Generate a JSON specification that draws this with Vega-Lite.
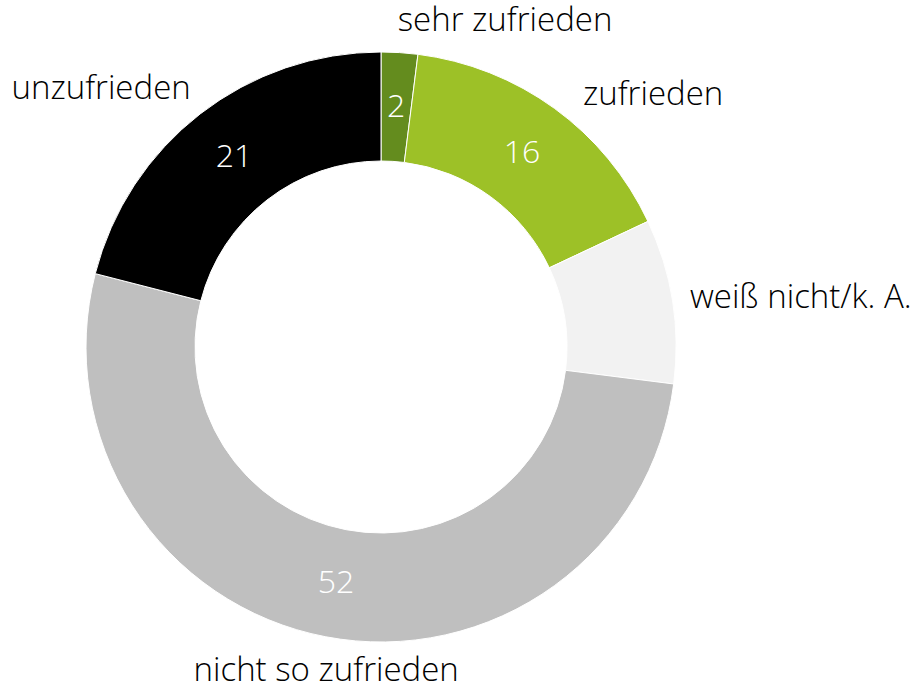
{
  "$schema": "https://vega.github.io/schema/vega-lite/v6.json",
  "width": 762,
  "height": 694,
  "autosize": "none",
  "padding": {"left": 0, "top": 0, "right": 159, "bottom": 0},
  "background": "white",
  "config": {"view": {"stroke": null}},
  "data": {"values": [
    {"category": "sehr zufrieden", "value": 2, "rank": 1},
    {"category": "zufrieden", "value": 16, "rank": 2},
    {"category": "weiß nicht/k. A.", "value": 9, "rank": 3},
    {"category": "nicht so zufrieden", "value": 52, "rank": 4},
    {"category": "unzufrieden", "value": 21, "rank": 5}
  ]},
  "encoding": {
    "theta": {"field": "value", "type": "quantitative", "stack": true},
    "order": {"field": "rank", "type": "quantitative"}
  },
  "layer": [
    {
      "mark": {"type": "arc", "radius": 295, "innerRadius": 186, "stroke": "white", "strokeWidth": 1},
      "encoding": {
        "color": {
          "field": "category", "type": "nominal", "legend": null,
          "scale": {
            "domain": ["sehr zufrieden", "zufrieden", "weiß nicht/k. A.", "nicht so zufrieden", "unzufrieden"],
            "range": ["#648c1e", "#9dc127", "#f2f2f2", "#bfbfbf", "#000000"]
          }
        }
      }
    },
    {
      "mark": {"type": "text", "radius": 240, "font": "Open Sans", "fontWeight": 300, "fontSize": 32, "fill": "white", "baseline": "middle", "align": "center"},
      "encoding": {
        "text": {"field": "value", "type": "quantitative"},
        "opacity": {"condition": {"test": "datum.category == 'weiß nicht/k. A.'", "value": 0}, "value": 1}
      }
    },
    {
      "mark": {
        "type": "text", "radius": 330, "font": "Open Sans", "fontWeight": 300, "fontSize": 33, "fill": "black", "baseline": "middle",
        "align": {"expr": "datum.category == 'nicht so zufrieden' ? 'center' : datum.category == 'unzufrieden' ? 'right' : 'left'"},
        "dx": {"expr": "datum.category == 'zufrieden' ? 8 : datum.category == 'weiß nicht/k. A.' ? -17 : datum.category == 'nicht so zufrieden' ? 7 : datum.category == 'unzufrieden' ? 12 : -4"},
        "dy": {"expr": "datum.category == 'zufrieden' ? 15 : datum.category == 'weiß nicht/k. A.' ? 3 : datum.category == 'nicht so zufrieden' ? 0 : datum.category == 'unzufrieden' ? 3 : 3"}
      },
      "encoding": {"text": {"field": "category", "type": "nominal"}}
    }
  ]
}
